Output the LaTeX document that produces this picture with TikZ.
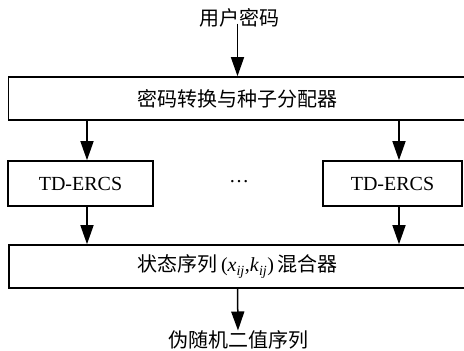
\documentclass[tikz,border=0pt]{standalone}
\usepackage{fontspec}
\setmainfont{Liberation Serif}
\newfontfamily\cjk{Noto Sans CJK SC}
\usetikzlibrary{arrows.meta}
\tikzset{
  box/.style={draw, line width=1.6pt, inner sep=0pt, font=\fontsize{20}{22}\selectfont},
  lbl/.style={inner sep=0pt, font=\fontsize{20}{22}\selectfont},
  arr/.style={line width=1.5pt, -{Triangle[length=19pt,width=13pt]}},
}
\begin{document}
\begin{tikzpicture}[x=1pt,y=-1pt]
\clip (0,0) rectangle (464,351);
\useasboundingbox (0,0) rectangle (464,351);
\node[lbl] (pw) at (239,18) {\cjk 用户密码};
\node[box, minimum width=458pt, minimum height=43pt] (dist) at (237.5,98.5) {\cjk 密码转换与种子分配器};
\node[box, minimum width=145pt, minimum height=45pt] (td1) at (80.5,183.5) {TD-ERCS};
\node[box, minimum width=139pt, minimum height=45pt] (td2) at (392.5,183.5) {TD-ERCS};
\node[lbl] (dots) at (239,182) {…};
\node[box, minimum width=457pt, minimum height=43pt] (mix) at (237.5,266.5) {{\cjk 状态序列}\,(\textit{x}\textsubscript{\textit{ij}},\textit{k}\textsubscript{\textit{ij}})\,{\cjk 混合器}};
\node[lbl] (out) at (238,340) {\cjk 伪随机二值序列};
\coordinate (a1) at (87,0);
\coordinate (a2) at (399,0);
\draw[arr] ([yshift=4pt]pw.south -| dist.north) -- (dist.north);
\draw[arr] (dist.south -| a1) -- (td1.north -| a1);
\draw[arr] (dist.south -| a2) -- (td2.north -| a2);
\draw[arr] (td1.south -| a1) -- (mix.north -| a1);
\draw[arr] (td2.south -| a2) -- (mix.north -| a2);
\draw[arr] (mix.south) -- (out.north);
\end{tikzpicture}
\end{document}
